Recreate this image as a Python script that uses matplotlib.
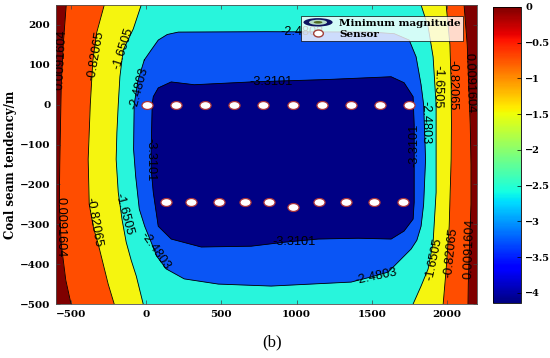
import numpy as np
import matplotlib
matplotlib.use("Agg")
import matplotlib.pyplot as plt
from matplotlib.colors import Normalize
from matplotlib.cm import ScalarMappable
from matplotlib.lines import Line2D
from matplotlib.patches import Ellipse
from matplotlib.path import Path
from matplotlib.transforms import Affine2D
from matplotlib.legend_handler import HandlerBase

# =========================================================
# DATA
# =========================================================
levels = [-3.3101, -2.4803, -1.6505, -0.82065, 0.0091604]
level_text = ["-3.3101", "-2.4803", "-1.6505", "-0.82065", "0.0091604"]

# region colours, inner (lowest) -> outer (highest)
region_colors = ["#000085", "#0A55F5", "#28F5DC", "#F5F50F", "#FF4D00", "#800000"]

# open contours that run from top edge to bottom edge: (x, y) top -> bottom
c_0009_left = [(-532, 250), (-552, 150), (-565, 50), (-570, -50), (-575, -150),
               (-578, -250), (-565, -350), (-535, -440), (-500, -500)]
c_0009_right = [(2114, 250), (2135, 150), (2145, 50), (2155, -50), (2160, -150),
                (2160, -250), (2150, -350), (2142, -450), (2140, -500)]

c_082_left = [(-279, 250), (-330, 180), (-355, 110), (-372, 0), (-386, -137),
              (-379, -250), (-350, -310), (-319, -350), (-253, -450), (-213, -500)]
c_082_right = [(1995, 250), (2020, 150), (2028, 50), (2030, -50), (2028, -137),
               (2015, -305), (1995, -412), (1975, -500)]

c_165_left = [(-33, 250), (-86, 190), (-153, 137), (-175, 70), (-186, 0), (-195, -70),
              (-200, -137), (-186, -220), (-160, -290), (-133, -345), (-100, -390),
              (-66, -430), (-20, -500)]
c_165_right = [(1828, 250), (1875, 195), (1908, 120), (1928, 0), (1928, -137),
               (1928, -220), (1908, -345), (1875, -412), (1828, -455), (1775, -500)]

# closed contours
c_248 = [(-13, 112), (33, 137), (80, 162), (140, 176), (213, 182), (800, 183),
         (1500, 182), (1650, 178), (1749, 162), (1795, 120), (1828, 50), (1845, 0),
         (1858, -137), (1845, -250), (1828, -305), (1800, -340), (1762, -362),
         (1675, -395), (1609, -420), (1496, -432), (1363, -445), (831, -455),
         (479, -450), (253, -437), (133, -412), (70, -380), (33, -345), (-10, -305),
         (-46, -262), (-70, -180), (-84, -112), (-80, 0), (-55, 60)]

c_331 = [(40, 0), (47, 20), (80, 42), (166, 57), (319, 50), (698, 57), (1200, 63),
         (1629, 70), (1715, 55), (1775, 20), (1782, -50), (1782, -137), (1782, -245),
         (1775, -287), (1715, -317), (1629, -337), (1410, -335), (1144, -337),
         (918, -345), (698, -355), (366, -357), (166, -337), (80, -305), (47, -220),
         (33, -162), (33, -112)]

# sensors
sensor_top_x = [5, 197, 390, 585, 777, 975, 1168, 1363, 1555, 1750]
sensor_top_y = [0] * 10
sensor_bot_x = [133, 299, 483, 654, 816, 975, 1146, 1330, 1514, 1707]
sensor_bot_y = [-244, -244, -244, -244, -244, -256, -244, -244, -244, -245]

cbar_min, cbar_max = -4.14, 0.0

# contour labels: (text, x, y, rotation)
contour_labels = [
    ("0.0091604", -565, 112, 87), ("-0.82065", -335, 122, 80),
    ("-1.6505", -150, 140, 72), ("-2.4803", -45, 42, 75),
    ("-3.3101", 27, -137, -90),
    ("0.0091604", -572, -307, -90), ("-0.82065", -352, -295, -80),
    ("-1.6505", -146, -275, -75), ("-2.4803", 60, -367, -55),
    ("-3.3101", 832, 57, 0), ("-2.4803", 1037, 182, 0),
    ("-3.3101", 985, -345, 0), ("-2.4803", 1530, -430, 12),
    ("-2.4803", 1855, -45, -90), ("-3.3101", 1782, -102, 90),
    ("-1.6505", 1935, 45, -92), ("-0.82065", 2038, 50, -90),
    ("0.0091604", 2150, 55, -88),
    ("-1.6505", 1915, -387, 78), ("-0.82065", 2030, -370, 84),
    ("0.0091604", 2150, -362, 88),
]

# =========================================================
# FIGURE
# =========================================================
fig = plt.figure(figsize=(5.5, 3.58), dpi=100)
ax = fig.add_axes([56 / 550, 1 - 304 / 358, 421 / 550, 299 / 358])
cax = fig.add_axes([493 / 550, 1 - 303 / 358, 28 / 550, 296 / 358])

ax.set_xlim(-600, 2200)
ax.set_ylim(-500, 250)
ax.set_facecolor(region_colors[5])


def open_poly(left, right):
    pts = left + right[::-1]
    return [p[0] for p in pts], [p[1] for p in pts]


def xy(pts):
    return [p[0] for p in pts], [p[1] for p in pts]


# filled bands, outer -> inner
fills = [
    (open_poly(c_0009_left, c_0009_right), region_colors[4]),
    (open_poly(c_082_left, c_082_right), region_colors[3]),
    (open_poly(c_165_left, c_165_right), region_colors[2]),
    (xy(c_248), region_colors[1]),
    (xy(c_331), region_colors[0]),
]
for (px, py), col in fills:
    ax.fill(px, py, color=col, lw=0.3, ec=col, zorder=1)

# contour lines
for curve in [c_0009_left, c_0009_right, c_082_left, c_082_right, c_165_left, c_165_right]:
    lx, ly = xy(curve)
    ax.plot(lx, ly, color="k", lw=0.6, zorder=2)
for curve in [c_248, c_331]:
    lx, ly = xy(curve + curve[:1])
    ax.plot(lx, ly, color="k", lw=0.6, zorder=2)

for s, x, y, r in contour_labels:
    ax.text(x, y, s, rotation=r, rotation_mode="anchor", ha="center", va="center",
            fontsize=9.2, family="Liberation Sans", color="k", zorder=3, clip_on=True)

# sensors
ellipse_marker = Path.unit_circle().transformed(Affine2D().scale(1.4, 1.0))
ax.plot(sensor_top_x, sensor_top_y, ls="none", marker=ellipse_marker, ms=8,
        mfc="white", mec="#A8323A", mew=0.9, zorder=4)
ax.plot(sensor_bot_x, sensor_bot_y, ls="none", marker=ellipse_marker, ms=8,
        mfc="white", mec="#A8323A", mew=0.9, zorder=4)

tick_font = dict(family="DejaVu Serif", weight="bold", size=7.5)
ax.set_xticks([-500, 0, 500, 1000, 1500, 2000])
ax.set_yticks(np.arange(-500, 201, 100))
ax.tick_params(direction="in", length=3, width=0.5, top=True, right=True, pad=4,
               colors="#404040")
for lab in ax.get_xticklabels() + ax.get_yticklabels():
    lab.set_fontproperties(tick_font)
    lab.set_color("black")
for sp in ax.spines.values():
    sp.set_linewidth(0.6)
    sp.set_color("#505050")

fig.text(11 / 550, 1 - 165 / 358, "Coal seam tendency/m", rotation=90,
         ha="center", va="center", family="DejaVu Serif", weight="bold", fontsize=8.5)


# legend
class NestedEllipseHandler(HandlerBase):
    def create_artists(self, legend, orig_handle, xdescent, ydescent, width, height,
                       fontsize, trans):
        cx = 0.5 * width - xdescent
        cy = 0.5 * height - ydescent
        out = []
        for w, h, c in [(1.0, 1.15, "#0E1460"), (0.62, 0.7, "#B4DCC8"), (0.3, 0.35, "#4F6A20")]:
            out.append(Ellipse((cx, cy), width * w, height * h, facecolor=c,
                               edgecolor="none", transform=trans))
        return out


mag_handle = Ellipse((0, 0), 1, 1)
sensor_handle = Line2D([], [], ls="none", marker=ellipse_marker, ms=7,
                       mfc="white", mec="#A0403A", mew=1.0)
leg = ax.legend([mag_handle, sensor_handle], ["Minimum magnitude", "Sensor"],
                handler_map={mag_handle: NestedEllipseHandler()},
                loc="upper right", bbox_to_anchor=(0.967, 0.963),
                prop=dict(family="DejaVu Serif", weight="bold", size=7.5),
                frameon=True, fancybox=False, borderpad=0.25, labelspacing=0.15,
                handlelength=2.8, handletextpad=0.6, borderaxespad=0.0)
leg.get_frame().set_edgecolor("black")
leg.get_frame().set_linewidth(0.6)
leg.set_zorder(10)

# colorbar
sm = ScalarMappable(norm=Normalize(cbar_min, cbar_max), cmap="jet")
cb = fig.colorbar(sm, cax=cax, ticks=np.arange(-4, 0.01, 0.5))
cb.ax.set_yticklabels([f"{t:g}".replace("-", "\u2212") for t in np.arange(-4, 0.01, 0.5)])
cb.ax.tick_params(direction="in", length=3, width=0.5, pad=3)
for lab in cb.ax.get_yticklabels():
    lab.set_fontproperties(dict(family="DejaVu Serif", weight="bold", size=7))
cb.outline.set_linewidth(0.6)

fig.text(272 / 550, 1 - 342 / 358, "(b)", ha="center", va="center",
         family="Liberation Serif", fontsize=12)

fig.savefig("out.png", dpi=100)
